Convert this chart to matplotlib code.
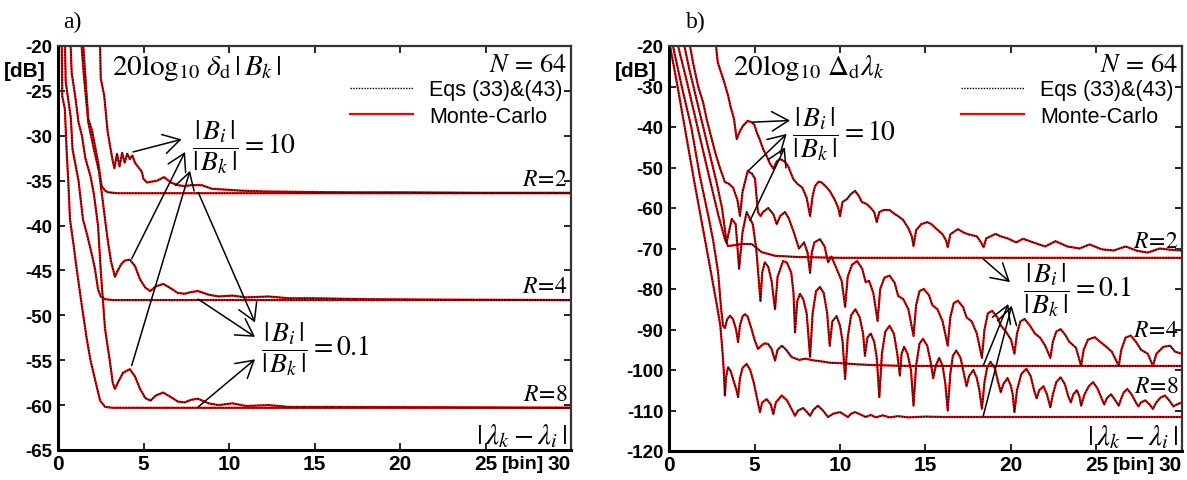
import matplotlib
matplotlib.use("Agg")
import matplotlib.pyplot as plt
from matplotlib.transforms import blended_transform_factory

plt.rcParams['mathtext.fontset'] = 'stix'
plt.rcParams['font.family'] = ['Liberation Sans', 'DejaVu Sans']

# ---------------- data: panel a) 20log10 delta_d |B_k|  (x [bin], y [dB]) ----------------
a_R2_hi = [(2.46, -20), (2.5, -23.6), (2.7, -25.5), (2.9, -29.5), (3.05, -31.2), (3.2, -32.8), (3.3, -33.6),
           (3.45, -32.0), (3.6, -33.4), (3.75, -31.9), (3.9, -33.0), (4.05, -32.0), (4.2, -32.6), (4.35, -32.2),
           (4.5, -33.0), (4.7, -33.5), (4.9, -34.0), (5.0, -34.8), (5.2, -35.2), (5.5, -35.1), (5.8, -35.0),
           (6.2, -34.6), (6.6, -35.2), (7.0, -35.5), (7.4, -35.6), (7.8, -35.5), (8.4, -35.5), (9.0, -35.9),
           (9.8, -36.0), (10.6, -36.1), (12, -36.2), (14, -36.25), (17, -36.3), (20, -36.3), (25, -36.35),
           (30, -36.35)]
a_R2_lo = [(1.48, -20), (1.55, -22), (1.77, -28.1), (2.0, -29.5), (2.2, -31.5), (2.36, -33.1), (2.55, -35.6),
           (2.75, -36.1), (2.94, -36.3), (3.5, -36.4), (30, -36.4)]
a_R4_hi = [(1.38, -20), (1.5, -23), (1.77, -28.5), (2.1, -31.5), (2.4, -34), (2.6, -37), (2.75, -39.3),
           (2.9, -41.5), (3.1, -44), (3.33, -45.7), (3.5, -45.0), (3.7, -44.3), (3.9, -43.9), (4.2, -43.8),
           (4.5, -44.5), (4.8, -46), (5.1, -46.9), (5.4, -47.3), (5.7, -46.8), (6.15, -46.5), (6.6, -47),
           (7.0, -47.5), (7.4, -47.6), (7.8, -47.4), (8.2, -47.3), (8.8, -47.7), (9.4, -47.9), (10.2, -47.8),
           (11, -48.0), (12.3, -47.9), (13.5, -48.1), (15, -48.1), (18, -48.2), (22, -48.25), (30, -48.3)]
a_R4_lo = [(0.41, -20), (0.45, -24), (0.6, -26), (0.75, -28), (0.85, -31.5), (1.0, -33), (1.2, -35),
           (1.35, -37.5), (1.46, -39.3), (1.7, -41), (1.95, -43), (2.16, -44.8), (2.34, -47.1), (2.5, -47.9),
           (2.75, -48.2), (3.2, -48.3), (30, -48.3)]
a_R8_hi = [(0.74, -20), (0.8, -23), (1.0, -25.5), (1.2, -28.5), (1.4, -30), (1.6, -32.5), (1.9, -34.5),
           (2.1, -36.5), (2.34, -40), (2.5, -45), (2.75, -51.5), (3.04, -55.2), (3.2, -57.5), (3.33, -58.2),
           (3.5, -57.5), (3.8, -56.4), (4.2, -56.0), (4.5, -56.8), (4.8, -58.2), (5.1, -59.2), (5.4, -59.5),
           (5.75, -58.9), (6.15, -58.6), (6.6, -59.1), (7.0, -59.6), (7.4, -59.7), (7.8, -59.4), (8.2, -59.3),
           (8.8, -59.8), (9.4, -60.0), (10.2, -59.8), (11, -60.1), (12.3, -60.0), (13.5, -60.2), (16, -60.2),
           (30, -60.3)]
a_R8_lo = [(0.22, -20), (0.25, -25.6), (0.4, -27), (0.5, -31.5), (0.6, -35), (0.7, -39.3), (0.9, -42),
           (1.09, -44.8), (1.4, -49), (1.68, -52.6), (1.9, -55), (2.16, -57.1), (2.46, -59.5), (2.75, -60.2),
           (3.2, -60.3), (30, -60.3)]

# ---------------- data: panel b) 20log10 Delta_d lambda_k ----------------
b_R2_hi = [(2.75, -20), (2.85, -24), (3.0, -26), (3.17, -28.1), (3.3, -30), (3.46, -32.3), (3.6, -35),
           (3.8, -38), (3.96, -43), (4.15, -41), (4.33, -39.7), (4.6, -38.5), (4.83, -38.8), (5.0, -39.5),
           (5.13, -41.3), (5.3, -43), (5.5, -45.4), (5.7, -47.1), (5.9, -49), (6.1, -50.3), (6.3, -48.5),
           (6.5, -47.9), (6.75, -48.5), (6.96, -49.6), (7.26, -52.8), (7.5, -54), (7.8, -55), (8.05, -57.5),
           (8.25, -62), (8.4, -57), (8.54, -54.6), (8.75, -53.5), (8.93, -53.7), (9.2, -54.8), (9.4, -55.8),
           (9.7, -58), (9.9, -60), (10.0, -62), (10.15, -58.5), (10.4, -57.8), (10.65, -56.5), (10.88, -55.8),
           (11.1, -57), (11.27, -58.5), (11.55, -59), (11.8, -60), (12.0, -61), (12.15, -63.5), (12.3, -61),
           (12.55, -60.5), (12.9, -60.5), (13.2, -61.5), (13.4, -62), (13.7, -63), (14.0, -65), (14.2, -67),
           (14.3, -69.4), (14.45, -65.5), (14.75, -64), (15.1, -63.5), (15.35, -64), (15.6, -65), (16.0, -66.5),
           (16.2, -68), (16.3, -69.7), (16.45, -66.5), (16.9, -65.2), (17.2, -66), (17.5, -66.5), (18.0, -67),
           (18.25, -68.5), (18.4, -69.7), (18.55, -67.5), (19.1, -66.4), (19.4, -67), (19.8, -67.5),
           (20.3, -68.5), (20.7, -67.6), (21.3, -68.5), (22, -69.5), (22.6, -68.2), (23.3, -69.5), (24, -70),
           (24.6, -69), (25.3, -70.2), (26, -70.5), (26.7, -69.5), (27.4, -70.6), (28, -71), (28.7, -70),
           (29.3, -70.3), (30, -70.5)]
b_R2_lo = [(0.53, -20), (1.0, -28), (1.5, -37), (2.0, -46), (2.5, -55), (2.9, -62), (3.27, -67.7),
           (3.45, -69.4), (3.8, -69.2), (4.25, -68.9), (4.84, -68.9), (5.42, -70.9), (6.2, -71.8),
           (7.54, -72.1), (10, -72.3), (30, -72.3)]
b_R4_hi = [(1.23, -20), (1.4, -24), (1.7, -29.9), (2.0, -34), (2.2, -38), (2.5, -43), (2.75, -47), (3.0, -50.4),
           (3.27, -53.6), (3.5, -54), (3.75, -55), (4.0, -58), (4.15, -62), (4.3, -56), (4.6, -50.9),
           (4.85, -51.5), (5.03, -52.8), (5.2, -61), (5.35, -62), (5.5, -61), (5.8, -60), (6.1, -61.5),
           (6.3, -64), (6.5, -62), (6.78, -61), (7.0, -62.5), (7.3, -66), (7.6, -70), (7.9, -68.5), (8.1, -71),
           (8.25, -76), (8.35, -71), (8.5, -68.5), (8.83, -67.7), (9.1, -69.5), (9.3, -73.4), (9.5, -72),
           (9.8, -75), (10.1, -78), (10.3, -84.4), (10.45, -77), (10.7, -74), (11.0, -73.1), (11.3, -75),
           (11.5, -78.3), (11.7, -78), (11.95, -81), (12.2, -87.9), (12.35, -80), (12.6, -77.2), (12.9, -76.7),
           (13.2, -78.5), (13.4, -81.7), (13.7, -82.5), (14.0, -85), (14.3, -91.6), (14.45, -84), (14.65, -80.5),
           (14.9, -80), (15.2, -81.5), (15.4, -84), (15.7, -85), (16.0, -88), (16.3, -94), (16.45, -87),
           (16.65, -83.5), (16.9, -82.9), (17.2, -84.5), (17.4, -87), (17.7, -88), (18.0, -91), (18.3, -97),
           (18.45, -90), (18.65, -86), (18.9, -85.4), (19.2, -87), (19.4, -89), (19.7, -90.5), (20.0, -92.5),
           (20.2, -96), (20.35, -91), (20.55, -88), (20.8, -87.4), (21.1, -89), (21.4, -91), (21.7, -92),
           (22.0, -94), (22.3, -97), (22.45, -93), (22.65, -90.5), (22.9, -89.9), (23.2, -91.5), (23.4, -93),
           (23.8, -94.5), (24.1, -99), (24.25, -95), (24.5, -92.5), (24.9, -91.9), (25.2, -93), (25.5, -94),
           (25.9, -95.5), (26.3, -99), (26.45, -95), (26.7, -92), (27.0, -91.5), (27.3, -93), (27.6, -95),
           (28.0, -96), (28.3, -99), (28.5, -96), (28.9, -94.3), (29.3, -94), (29.6, -95.5), (30, -96)]
b_R4_lo = [(0.23, -20), (0.8, -31), (1.3, -40), (1.8, -52), (2.3, -62), (2.57, -67.7), (2.87, -75.8),
           (3.05, -85), (3.16, -89.1), (3.27, -89.6), (3.4, -87.5), (3.57, -86.6), (3.75, -87.5), (3.92, -90),
           (4.04, -93.1), (4.15, -89), (4.3, -86.8), (4.44, -86.2), (4.6, -86.8), (4.8, -89.5), (5.0, -92.5),
           (5.2, -94.8), (5.4, -94), (5.6, -93.4), (5.8, -93.6), (6.0, -94.8), (6.2, -97.7), (6.35, -95),
           (6.6, -94), (6.85, -95), (7.17, -96.8), (7.6, -97.5), (8.0, -97.2), (8.4, -97.6), (8.8, -97.8),
           (9.4, -98.2), (10, -98.3), (11, -98.6), (12, -98.8), (14, -99), (30, -99)]
b_R8_hi = [(0.9, -20), (1.2, -26), (1.6, -33), (2.0, -40), (2.4, -47), (2.8, -54), (3.1, -60), (3.37, -68.5),
           (3.67, -62.7), (3.9, -64), (4.1, -75), (4.3, -66), (4.54, -61), (4.9, -64), (5.1, -70), (5.35, -83),
           (5.45, -76), (5.6, -73.4), (5.8, -74.5), (6.0, -78), (6.2, -85), (6.35, -77), (6.67, -73.1),
           (6.9, -73.5), (7.15, -76), (7.28, -81), (7.37, -90.7), (7.5, -83), (7.66, -81.2), (7.85, -82.5),
           (8.05, -86), (8.25, -96.8), (8.4, -86), (8.6, -80.5), (8.83, -79.5), (9.05, -81), (9.25, -86),
           (9.4, -94), (9.55, -88), (9.8, -86.7), (10.0, -89), (10.15, -93), (10.3, -102.2), (10.45, -92),
           (10.65, -86.5), (10.9, -85), (11.15, -87), (11.35, -91), (11.46, -96.5), (11.6, -92), (11.8, -91),
           (12.0, -93), (12.15, -97), (12.3, -106.7), (12.45, -96), (12.65, -90.5), (12.9, -89.1), (13.15, -91),
           (13.35, -96), (13.5, -101.4), (13.6, -96), (13.75, -94.3), (13.95, -96), (14.15, -100),
           (14.3, -108.8), (14.45, -99), (14.65, -93.5), (14.85, -92.3), (15.1, -94), (15.3, -98), (15.45, -102),
           (15.6, -99), (15.8, -97), (16.0, -99), (16.15, -103), (16.3, -110), (16.45, -101), (16.6, -96.5),
           (16.8, -95.2), (17.05, -97), (17.25, -101), (17.4, -104), (17.55, -101.5), (17.8, -100),
           (18.0, -102), (18.15, -105), (18.3, -109.6), (18.45, -103), (18.6, -99.5), (18.8, -98),
           (19.05, -99.5), (19.25, -103), (19.4, -105.5), (19.55, -103.5), (19.8, -102), (20.0, -104),
           (20.1, -106), (20.2, -110.4), (20.35, -105), (20.6, -101), (20.9, -99.7), (21.15, -101.5),
           (21.35, -105), (21.5, -107), (21.65, -105), (21.9, -104), (22.1, -106), (22.3, -109.2),
           (22.45, -106), (22.65, -103), (22.9, -101.8), (23.15, -103.5), (23.35, -106.5), (23.5, -108),
           (23.65, -106), (23.85, -105), (24.0, -106.5), (24.1, -108.8), (24.3, -106), (24.55, -104),
           (24.8, -103), (25.05, -104.5), (25.3, -107), (25.45, -108.5), (25.6, -107), (25.85, -106),
           (26.1, -107.5), (26.3, -108.8), (26.45, -107), (26.6, -105.5), (26.8, -104.7), (27.05, -106),
           (27.3, -108), (27.45, -109), (27.6, -108), (27.85, -107.5), (28.1, -108.5), (28.3, -109.6),
           (28.5, -108), (28.75, -106.8), (29.0, -106.3), (29.25, -107.5), (29.5, -109), (29.7, -108.5),
           (30, -108)]
b_R8_lo = [(0.06, -20), (0.5, -30), (1.0, -42), (1.5, -54), (2.1, -67.7), (2.5, -77), (2.8, -84), (3.0, -89),
           (3.12, -95), (3.2, -100), (3.27, -106.3), (3.33, -102), (3.45, -99.3), (3.6, -100.2), (3.8, -103),
           (3.95, -105), (4.04, -106.7), (4.15, -102), (4.3, -99.5), (4.54, -98.5), (4.75, -100), (4.95, -103),
           (5.15, -107), (5.32, -110.4), (5.45, -108), (5.71, -107.2), (5.95, -108.5), (6.1, -110.9),
           (6.25, -108), (6.59, -106.3), (6.9, -107.5), (7.15, -109.5), (7.37, -111.3), (7.55, -110),
           (7.84, -109.4), (8.05, -110.3), (8.25, -111.3), (8.45, -109.8), (8.71, -108.8), (9.0, -110),
           (9.3, -111.6), (9.6, -110.8), (10.0, -110.4), (10.3, -111.2), (10.47, -111.6), (10.65, -110.8),
           (10.88, -110.4), (11.2, -111), (11.5, -111.6), (11.8, -111.1), (12.1, -111.7), (12.5, -111.2),
           (12.9, -111.7), (13.4, -111.4), (14, -111.7), (15, -111.5), (16, -111.6), (30, -111.6)]

x_ticks = [0, 5, 10, 15, 20, 25, 30]
a_y_ticks = [-20, -25, -30, -35, -40, -45, -50, -55, -60, -65]
b_y_ticks = [-20, -30, -40, -50, -60, -70, -80, -90, -100, -110, -120]
legend_labels = ['Eqs (33)&(43)', 'Monte-Carlo']

RED = '#ff0000'
frac10 = r'$\dfrac{|\,B_i\,|}{|\,B_k\,|}=10$'
frac01 = r'$\dfrac{|\,B_i\,|}{|\,B_k\,|}=0.1$'

fig = plt.figure(figsize=(11.87, 4.81), dpi=100)
axA = fig.add_axes([58 / 1187, 1 - 451 / 481, 513 / 1187, 404 / 481])
axB = fig.add_axes([669 / 1187, 1 - 452 / 481, 513 / 1187, 405 / 481])


def draw_curves(ax, curves):
    reds, blacks = [], []
    for c in curves:
        xs, ys = zip(*c)
        r, = ax.plot(xs, ys, color=RED, lw=1.6)
        reds.append(r)
    for c in curves:
        xs, ys = zip(*c)
        k, = ax.plot(xs, ys, color='black', lw=1.0, linestyle=(0, (1, 1)))
        blacks.append(k)
    return blacks[0], reds[0]


def style_axes(ax, yticks, ylim):
    ax.set_xlim(0, 30)
    ax.set_ylim(*ylim)
    ax.set_xticks(x_ticks)
    ax.set_yticks(yticks)
    ax.set_xticklabels([str(t) for t in x_ticks], fontsize=15, fontweight='bold')
    ax.set_yticklabels([str(t) for t in yticks], fontsize=13.5, fontweight='bold')
    ax.get_xticklabels()[-1].set_horizontalalignment('right')
    ax.tick_params(direction='in', top=True, right=True, length=5, width=1.2, pad=4)
    ax.tick_params(axis='x', pad=3)
    for s in ['left', 'bottom']:
        ax.spines[s].set_linewidth(2.2)
    for s in ['top', 'right']:
        ax.spines[s].set_linewidth(1.6)
        ax.spines[s].set_color('#333333')
    trans = blended_transform_factory(ax.transData, ax.transAxes)
    ax.text(27.2, -0.012, '[bin]', transform=trans, fontsize=14, fontweight='bold',
            ha='center', va='top')
    ax.text(-0.064, 0.94, '[dB]', transform=ax.transAxes, fontsize=15, fontweight='bold',
            ha='center', va='center')
    ax.text(0.992, 0.955, r'$N\,=\,64$', transform=ax.transAxes, fontsize=19, ha='right', va='center')
    ax.text(0.992, 0.037, r'$|\,\lambda_k-\lambda_i\,|$', transform=ax.transAxes, fontsize=21,
            ha='right', va='center')


def legend(ax, hk, hr):
    ax.legend([hk, hr], legend_labels, loc='upper left', bbox_to_anchor=(0.57, 0.918),
              frameon=False, fontsize=15.5, handlelength=2.9, handletextpad=0.75,
              labelspacing=0.25, borderpad=0, borderaxespad=0)


AP = dict(arrowstyle='->,head_length=0.6,head_width=0.35', lw=1.1, color='black',
          mutation_scale=20, shrinkA=0, shrinkB=0)

# ---------- panel a ----------
hk, hr = draw_curves(axA, [a_R2_lo, a_R2_hi, a_R4_lo, a_R4_hi, a_R8_lo, a_R8_hi])
style_axes(axA, a_y_ticks, (-65, -20))
legend(axA, hk, hr)
axA.text(0.105, 0.948, r'$20\mathrm{log}_{10}\;\delta_{\mathrm{d}}\,|\,B_k\,|$', transform=axA.transAxes,
         fontsize=21, ha='left', va='center')
for lab, yv in [('2', -36.4), ('4', -48.3), ('8', -60.3)]:
    axA.text(29.8, yv + 0.35, r'$R\!=\!%s$' % lab, fontsize=17, ha='right', va='bottom')
axA.text(7.85, -31.1, frac10, fontsize=20, ha='left', va='center')
axA.text(11.9, -53.7, frac01, fontsize=20, ha='left', va='center')
for (x0, y0), (x1, y1) in [((4.39, -31.8), (7.23, -30.4)), ((4.31, -43.7), (7.43, -31.8)),
                           ((4.31, -55.6), (7.72, -33.9)), ((8.2, -36.3), (11.52, -50.8)),
                           ((8.2, -48.2), (11.52, -52.4)), ((8.2, -60.2), (11.52, -54.9))]:
    axA.annotate('', xy=(x1, y1), xytext=(x0, y0), arrowprops=AP)

# ---------- panel b ----------
hk, hr = draw_curves(axB, [b_R2_lo, b_R2_hi, b_R4_lo, b_R4_hi, b_R8_lo, b_R8_hi])
style_axes(axB, b_y_ticks, (-120, -20))
legend(axB, hk, hr)
axB.text(0.125, 0.948, r'$20\mathrm{log}_{10}\;\Delta_{\mathrm{d}}\lambda_k$', transform=axB.transAxes,
         fontsize=21, ha='left', va='center')
for lab, yv in [('2', -69.6), ('4', -91.6), ('8', -105.5)]:
    axB.text(29.8, yv, r'$R\!=\!%s$' % lab, fontsize=17, ha='right', va='baseline')
axB.text(7.2, -41.5, frac10, fontsize=20, ha='left', va='center')
axB.text(20.7, -80.0, frac01, fontsize=20, ha='left', va='center')
for (x0, y0), (x1, y1) in [((4.9, -38.8), (7.08, -38.4)), ((4.64, -50.8), (6.88, -41.7)),
                           ((4.74, -63.1), (6.78, -45.0)), ((18.38, -72.6), (19.94, -78.3)),
                           ((18.38, -98.9), (19.84, -83.7)), ((18.38, -111.3), (20.04, -84.1))]:
    axB.annotate('', xy=(x1, y1), xytext=(x0, y0), arrowprops=AP)

fig.text(72 / 1187, 1 - 22 / 481, 'a)', fontsize=17, family='Liberation Serif', ha='center', va='center')
fig.text(696 / 1187, 1 - 22 / 481, 'b)', fontsize=17, family='Liberation Serif', ha='center', va='center')

fig.savefig('out.png', dpi=100)
